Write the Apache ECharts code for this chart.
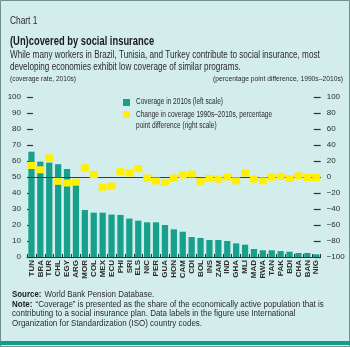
<!DOCTYPE html>
<html><head><meta charset="utf-8">
<script src="https://cdn.jsdelivr.net/npm/echarts@6/dist/echarts.min.js"></script>
<style>html,body{margin:0;padding:0;background:#d3ecec;}#c{width:350px;height:347px;}</style>
</head><body><div id="c"></div>
<script>
var categories = ['TUN','BRA','TUR','CHL','EGY','ARG','MOR','COL','MEX','ECU','PHI','SRI','ELS','NIC','PER','GUA','HON','CAM','CDI','BOL','INS','ZAM','IND','GHA','MLI','MAD','RWA','TAN','PAK','BDI','CHA','BAN','NIG'];
var coverage2010s = [65.8,59.6,59,58,55,45,29.4,27.7,27.7,26.5,26.3,24,22.7,21.7,21.7,20,17.3,15.8,12.5,11.9,10.6,10.6,10,8.5,7.7,5,4.2,4.2,3.7,3.3,2.5,2.5,1.7];
var changePP = [14.4,9,24,-5.4,-7.5,-6.5,11.5,3,-12.7,-11.4,6.7,5,10.4,-1.3,-5,-6.7,-1.3,2.5,3.7,-5.4,-1.7,-2.7,0,-4.8,5,-2.7,-4.8,0,0.8,-2,1.5,-0.6,-0.6];
var leftTicks = {min:0, max:100, interval:10};
var rightTicks = {min:-100, max:100, interval:20};

var FONT = '"Liberation Sans",sans-serif';
var TXT = '#2b2b2b';
var TEAL = '#17a08c';
var YEL = '#fff000';

function txt(x, y, s, font, sx, extra) {
  var st = {text:s, font:font, fill:TXT, textVerticalAlign:'top'};
  if (extra) for (var k in extra) st[k] = extra[k];
  return {type:'text', x:x, y:y, scaleX:sx, style:st, silent:true};
}

var chart = echarts.init(document.getElementById('c'), null, {renderer:'canvas'});
chart.setOption({
  backgroundColor:'#d3ecec',
  animation:false,
  grid:{left:27, right:29.3, top:97, bottom:90, containLabel:false},
  xAxis:{type:'category', data:categories,
    axisLine:{show:true, lineStyle:{color:'#333', width:1}},
    axisTick:{show:true, alignWithLabel:false, length:3, inside:true, lineStyle:{color:'#333'}},
    axisLabel:{rotate:90, interval:0, margin:3, fontSize:8, fontFamily:FONT, color:TXT, fontWeight:'bold'}},
  yAxis:[
    {type:'value', min:leftTicks.min, max:leftTicks.max, interval:leftTicks.interval, position:'left',
     axisLine:{show:false}, splitLine:{show:false},
     axisTick:{show:true, inside:true, length:6, lineStyle:{color:'#333', width:1.2}},
     axisLabel:{margin:6, fontSize:8, fontFamily:FONT, color:TXT}},
    {type:'value', min:rightTicks.min, max:rightTicks.max, interval:rightTicks.interval, position:'right',
     axisLine:{show:false}, splitLine:{show:false},
     axisTick:{show:true, inside:true, length:7, lineStyle:{color:'#333', width:1.2}},
     axisLabel:{margin:6, fontSize:8, fontFamily:FONT, color:TXT,
       formatter:function(v){return String(v).replace('-','\u2212');}}}
  ],
  series:[
    {type:'bar', name:'Coverage in 2010s (left scale)', data:coverage2010s, yAxisIndex:0,
     barCategoryGap:'30%', itemStyle:{color:TEAL}, z:2,
     markLine:{silent:true, symbol:'none', label:{show:false},
       lineStyle:{color:'#3a3a3a', width:1, type:'solid'}, data:[{yAxis:50}]}},
    {type:'scatter', name:'Change in coverage', data:changePP, yAxisIndex:1,
     symbol:'rect', symbolSize:[8,7], itemStyle:{color:YEL, opacity:1}, z:5}
  ],
  graphic:[
    {type:'rect', shape:{x:0.5,y:0.5,width:349,height:346}, style:{fill:'none', stroke:'#6f8f8f', lineWidth:1}, z:0, silent:true},
    {type:'rect', shape:{x:0,y:341,width:350,height:4}, style:{fill:'#139c86'}, silent:true},
    txt(10, 15, 'Chart 1', '11px '+FONT, 0.76),
    txt(10, 34.5, '(Un)covered by social insurance', 'bold 13px '+FONT, 0.72, {fill:'#1a1a1a'}),
    txt(10, 48.5, 'While many workers in Brazil, Tunisia, and Turkey contribute to social insurance, most\ndeveloping economies exhibit low coverage of similar programs.', '11px '+FONT, 0.74, {lineHeight:12.5}),
    txt(10, 75, '(coverage rate, 2010s)', '8px '+FONT, 0.82),
    txt(343, 75, '(percentage point difference, 1990s\u20132010s)', '8px '+FONT, 0.84, {textAlign:'right'}),
    {type:'rect', shape:{x:123,y:99,width:7,height:7}, style:{fill:TEAL}},
    txt(136, 97.5, 'Coverage in 2010s (left scale)', '8.5px '+FONT, 0.77),
    {type:'rect', shape:{x:123,y:111,width:7,height:7}, style:{fill:YEL}},
    txt(136, 109.5, 'Change in coverage 1990s\u20132010s, percentage\npoint difference (right scale)', '8.5px '+FONT, 0.77, {lineHeight:11}),
    {type:'text', x:12, y:289, scaleX:0.93, silent:true, style:{textVerticalAlign:'top', rich:{b:{font:'bold 8.5px '+FONT, fill:'#1a1a1a'}, n:{font:'8.5px '+FONT, fill:TXT}}, text:'{b|Source:} {n|World Bank Pension Database.}'}},
    {type:'text', x:12, y:299, scaleX:0.94, silent:true, style:{textVerticalAlign:'top', rich:{b:{font:'bold 8.5px '+FONT, fill:'#1a1a1a'}, n:{font:'8.5px '+FONT, fill:TXT}}, text:'{b|Note:} {n|\u201cCoverage\u201d is presented as the share of the economically active population that is}'}},
    txt(12, 309, 'contributing to a social insurance plan. Data labels in the figure use International\nOrganization for Standardization (ISO) country codes.', '8.5px '+FONT, 0.94, {lineHeight:10})
  ]
});
</script></body></html>
